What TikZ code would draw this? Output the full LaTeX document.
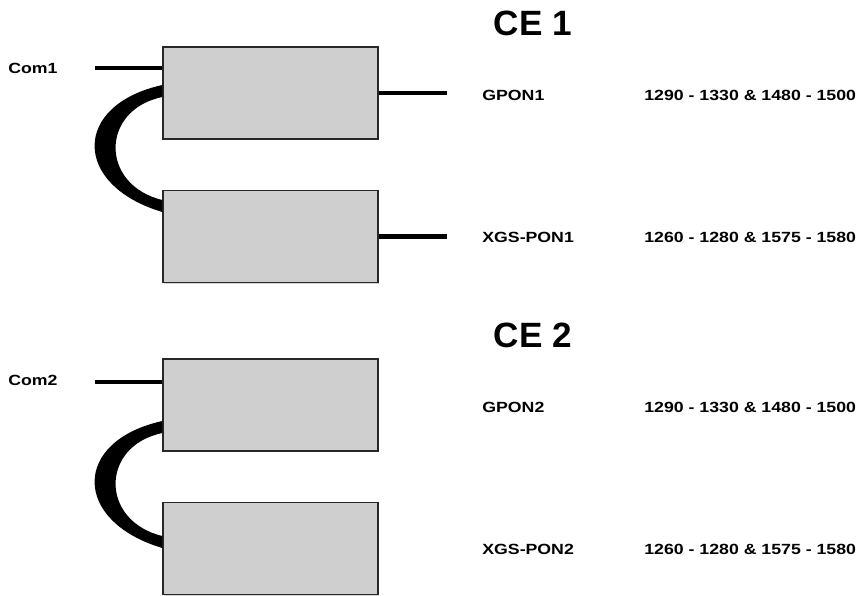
\documentclass[tikz,border=0pt]{standalone}
\usepackage{fontspec}
\setmainfont{Liberation Sans}
\newfontfamily\lblfont{Liberation Sans}[FakeStretch=1.2]
\usetikzlibrary{shadows}
\definecolor{boxgrau}{RGB}{208,207,208}
\definecolor{rand}{RGB}{40,40,40}

\begin{document}
\begin{tikzpicture}[x=0.02cm, y=-0.02cm,
    filterbox/.style={draw=rand, line width=0.8pt, fill=boxgrau,
      minimum width=4.3cm, minimum height=1.84cm, inner sep=0pt,
      drop shadow={opacity=0.35, shadow xshift=0.6pt, shadow yshift=-0.8pt}},
    faser/.style={line width=2.3pt, black},
    lbl/.style={font=\lblfont\bfseries\fontsize{8.4}{10}\selectfont,
      anchor=west, inner sep=0pt},
    titel/.style={font=\bfseries\fontsize{20}{24}\selectfont, inner sep=0pt}]
      \useasboundingbox (0,0) rectangle (862,595);

      % two combiner groups
      \foreach \i/\dy/\cy in {1/0/0, 2/312/24} {
        \begin{scope}[shift={(0,\dy)}]
          \node[titel] (ce\i) at (533,23) {CE \i};
          \node[filterbox] (a\i) at (270.5,93) {};
          \node[filterbox] (b\i) at (270.5,236.5) {};

          % common port
          \node[lbl] (com\i) at (8,68) {Com\i};
          \coordinate (in\i) at (95,{68+\cy/12});
          \draw[faser] (in\i) -- (in\i -| a\i.west);

          % bent fibre
          \fill[black] ([yshift=0.16cm-\cy*0.02cm]a\i.west)
            .. controls (72,{105+\cy}) and (72,{185+\cy}) ..
            ([yshift=0.49cm-\cy*0.02cm]b\i.west)
            -- ([yshift=0.73cm-\cy*0.02cm]b\i.west)
            .. controls (100,{185+\cy}) and (100,{110+\cy}) ..
            ([yshift=-0.08cm-\cy*0.02cm]a\i.west) -- cycle;

          % outputs
          \ifnum\i=1
            \coordinate (ga\i) at (447,93);
            \coordinate (xa\i) at (447,236.5);
            \draw[faser] (a\i.east) -- (ga\i);
            \draw[faser] (b\i.east) -- (xa\i);
          \fi
          \node[lbl] (gpon\i) at (482,95) {GPON\i};
          \node[lbl] (xgs\i) at (482,237) {XGS-PON\i};
          \node[lbl] (gw\i) at (644,95) {1290 - 1330 \& 1480 - 1500};
          \node[lbl] (xw\i) at (644,237) {1260 - 1280 \& 1575 - 1580};
        \end{scope}
      }
    \end{tikzpicture}
\end{document}
